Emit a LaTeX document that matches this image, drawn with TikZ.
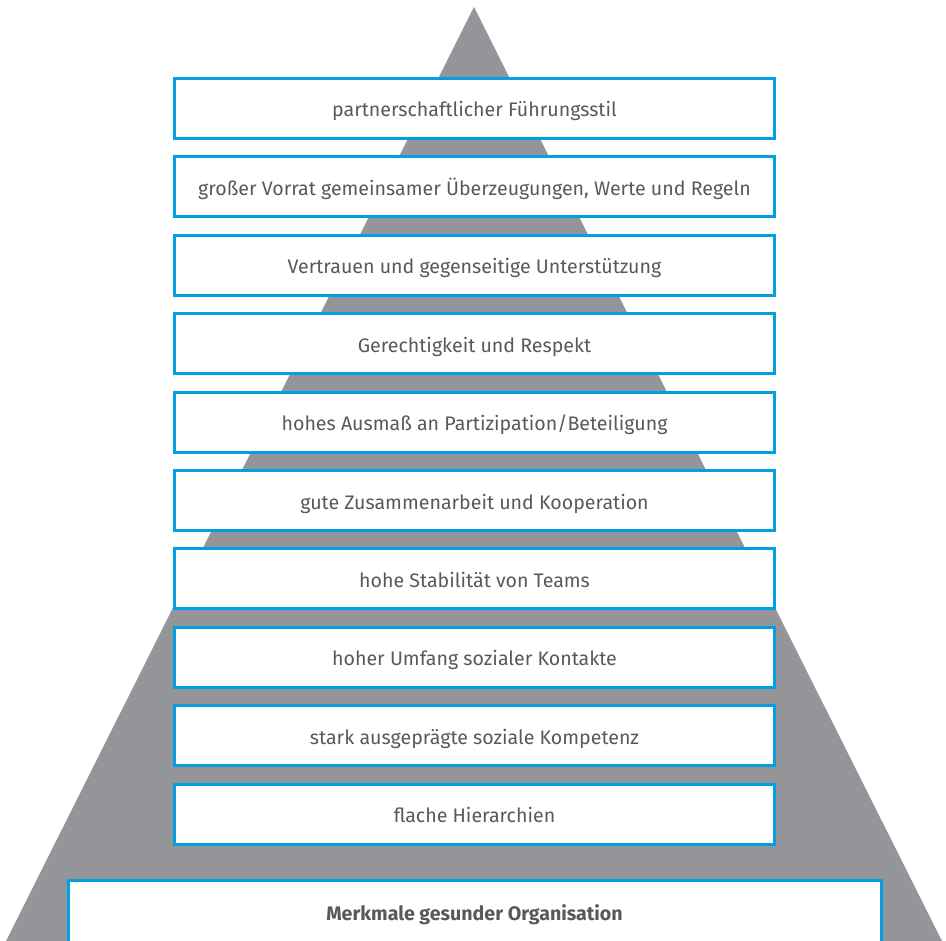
\documentclass[tikz,border=0pt]{standalone}
\usepackage{fontspec}
\setmainfont{Fira Sans}
\definecolor{pyrgray}{HTML}{939598}
\definecolor{boxblue}{HTML}{00A0E3}
\definecolor{txtgray}{HTML}{58595B}

\begin{document}
\begin{tikzpicture}[x=1pt,y=-1pt,
  level/.style={draw=boxblue,fill=white,line width=3pt,minimum width=600pt,minimum height=60pt,inner sep=0pt,text height=17pt,text depth=0pt,text=txtgray,font=\fontsize{19.6}{22}\selectfont},
  title/.style={anchor=base,inner sep=0pt,text=txtgray,font=\fontsize{19.6}{22}\selectfont\bfseries}]
\path[use as bounding box] (0,0) rectangle (946,941);
% pyramid behind the boxes
\fill[pyrgray] (474,7) -- (944,945) -- (4,945) -- cycle;
% levels, top to bottom
\node[level] (l1) at (474.5,108.5) {partnerschaftlicher Führungsstil};
\node[level] (l2) at (474.5,186.9) {großer Vorrat gemeinsamer Überzeugungen, Werte und Regeln};
\node[level] (l3) at (474.5,265.3) {Vertrauen und gegenseitige Unterstützung};
\node[level] (l4) at (474.5,343.7) {Gerechtigkeit und Respekt};
\node[level] (l5) at (474.5,422.1) {hohes Ausmaß an Partizipation/Beteiligung};
\node[level] (l6) at (474.5,500.5) {gute Zusammenarbeit und Kooperation};
\node[level] (l7) at (474.5,578.9) {hohe Stabilität von Teams};
\node[level] (l8) at (474.5,657.3) {hoher Umfang sozialer Kontakte};
\node[level] (l9) at (474.5,735.7) {stark ausgeprägte soziale Kompetenz};
\node[level] (l10) at (474.5,814.1) {flache Hierarchien};
% base box, open below
\draw[boxblue,fill=white,line width=3pt] (68.5,960) -- (68.5,880.5) -- (881.5,880.5) -- (881.5,960);
\node[title] (base) at (474.5,920) {Merkmale gesunder Organisation};
\end{tikzpicture}
\end{document}
